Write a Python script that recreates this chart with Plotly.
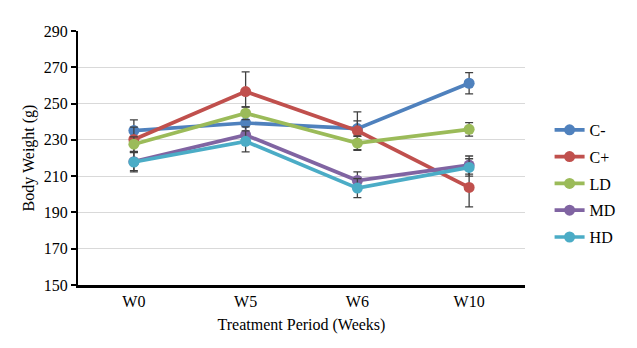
import plotly.graph_objects as go

weeks = ["W0", "W5", "W6", "W10"]
series_names = ["C-", "C+", "LD", "MD", "HD"]
colors = ["#4F81BD", "#C0504D", "#9BBB59", "#8064A2", "#4BACC6"]

c_minus = [235.1, 239.3, 236.2, 261.2]
c_plus = [230.2, 256.6, 235.0, 203.8]
ld = [227.6, 244.7, 228.2, 235.8]
md = [218.0, 232.7, 207.6, 216.1]
hd = [217.8, 229.2, 203.4, 214.8]

err_c_minus = [5.9, 8.8, 4.3, 5.9]
err_c_plus = [6.8, 10.9, 10.4, 10.7]
err_ld = [4.0, 3.5, 4.0, 3.7]
err_md = [5.0, 4.5, 4.8, 5.0]
err_hd = [5.4, 5.8, 5.2, 4.8]

values = [c_minus, c_plus, ld, md, hd]
errors = [err_c_minus, err_c_plus, err_ld, err_md, err_hd]

FF = "Liberation Serif, Times New Roman, serif"
fnt = dict(family=FF, size=16, color="black")

fig = go.Figure()
for i, (name, vals, errs, col) in enumerate(zip(series_names, values, errors, colors)):
    fig.add_trace(go.Scatter(
        x=weeks, y=vals, name=name, mode="lines+markers",
        line=dict(color=col, width=3.7),
        marker=dict(color=col, size=11),
        error_y=dict(type="data", array=errs, visible=True,
                     color="#404040", thickness=1.3, width=4),
        legendgroup=name,
    ))

fig.update_layout(
    width=637, height=348,
    margin=dict(l=78, r=112, t=31, b=63),
    paper_bgcolor="white", plot_bgcolor="white",
    font=fnt,
    showlegend=True,
    legend=dict(x=1.055, xanchor="left", y=0.4, yanchor="middle",
                font=fnt, tracegroupgap=3, itemwidth=30,
                bgcolor="rgba(0,0,0,0)"),
    xaxis=dict(
        type="category", showgrid=False, showline=True, linecolor="black",
        linewidth=2.5, ticks="", tickfont=fnt,
        title=dict(text="Treatment Period (Weeks)", font=fnt, standoff=10),
        range=[-0.5, 3.5], fixedrange=True,
    ),
    yaxis=dict(
        range=[150, 290], dtick=20, tick0=150, showgrid=True, gridcolor="#D9D9D9",
        gridwidth=1, showline=True, linecolor="black", linewidth=2,
        ticks="outside", ticklen=5, tickcolor="black", tickwidth=1.5,
        tickfont=fnt, zeroline=False,
        title=dict(text="Body Weight (g)", font=fnt, standoff=5),
    ),
)

fig.write_html("out.html")
